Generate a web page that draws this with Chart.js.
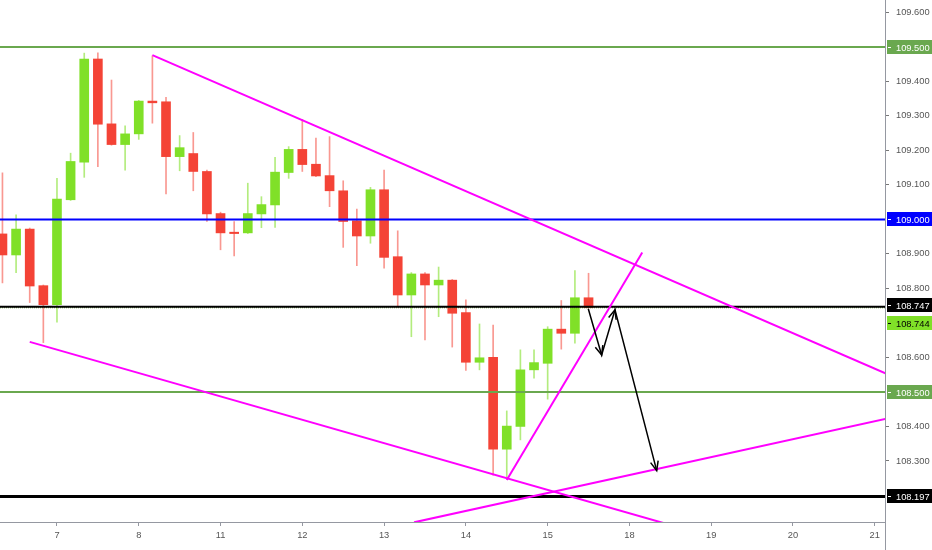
<!DOCTYPE html>
<html lang="en">
<head>
    <meta charset="UTF-8">
    <script src="https://cdn.jsdelivr.net/npm/chart.js@4.4.1/dist/chart.umd.min.js"></script>
    <title>USDJPY 4H</title>
    <style>
        html, body { margin: 0; padding: 0; background: #fff; }
        canvas { display: block; }
    </style>
</head>
<body>
    <canvas id="grafico" width="932" height="550"></canvas>

    <script>
        // candle index (4h bars, 6 per day), 0 = day "7"
        const candleIdx = [-4,-3,-2,-1,0,1,2,3,4,5,6,7,8,9,10,11,12,13,14,15,16,17,18,19,20,21,22,23,24,25,26,27,28,29,30,31,32,33,34,35,36,37,38,39];
        const opens  = [108.958,108.897,108.972,108.808,108.753,109.057,109.166,109.465,109.277,109.217,109.248,109.343,109.341,109.182,109.191,109.139,109.017,108.963,108.961,109.016,109.042,109.136,109.203,109.160,109.127,109.083,108.996,108.952,109.086,108.892,108.781,108.842,108.810,108.824,108.730,108.586,108.600,108.334,108.400,108.564,108.583,108.682,108.670,108.773];
        const highs  = [109.135,109.013,108.975,108.810,109.119,109.192,109.482,109.483,109.404,109.271,109.345,109.474,109.354,109.243,109.252,109.143,109.021,108.994,109.105,109.066,109.180,109.211,109.290,109.236,109.240,109.112,109.030,109.093,109.143,108.967,108.846,108.846,108.862,108.826,108.767,108.697,108.694,108.445,108.622,108.622,108.689,108.765,108.852,108.844];
        const lows   = [108.816,108.846,108.759,108.643,108.702,109.055,109.122,109.153,109.215,109.143,109.232,109.279,109.074,109.141,109.083,108.994,108.912,108.894,108.959,108.976,108.977,109.119,109.139,109.124,109.037,108.919,108.866,108.931,108.859,108.746,108.660,108.651,108.718,108.630,108.562,108.564,108.259,108.253,108.361,108.540,108.479,108.624,108.641,108.744];
        const closes = [108.897,108.972,108.807,108.753,109.059,109.168,109.465,109.276,109.217,109.248,109.343,109.338,109.182,109.208,109.139,109.016,108.961,108.959,109.017,109.043,109.137,109.203,109.159,109.126,109.083,108.994,108.952,109.086,108.890,108.781,108.842,108.810,108.824,108.728,108.586,108.599,108.334,108.401,108.564,108.585,108.682,108.670,108.773,108.744];

        // x axis: day labels at every 6th bar
        const dayTickIdx = [0,6,12,18,24,30,36,42,48,54,60];
        const dayLabels  = ['7','8','11','12','13','14','15','18','19','20','21'];

        // price axis ticks (the ones without a coloured tag)
        const priceTicks = [109.6,109.4,109.3,109.2,109.1,108.9,108.8,108.6,108.4,108.3];

        // horizontal levels
        const levelValues = [109.5, 109.0, 108.747, 108.5, 108.197];
        const levelColors = ['#6aa84f', '#0000ff', '#000000', '#6aa84f', '#000000'];
        const levelWidths = [2, 2, 2, 2, 3];
        const lastPrice = 108.744;

        // trend lines (bar index, price)
        const trendUpperX = [7, 61];
        const trendUpperY = [109.476, 108.550];
        const trendLowerX = [-2, 50];
        const trendLowerY = [108.645, 108.058];
        const trendRiseX = [26.2, 61];
        const trendRiseY = [108.122, 108.424];
        const trendSteepX = [33.0, 42.94];
        const trendSteepY = [108.245, 108.904];

        // projected path (arrows)
        const pathX = [38.98, 39.96, 40.94, 44.0];
        const pathY = [108.741, 108.607, 108.738, 108.272];

        const VERDE = 'rgb(128,224,40)';
        const VERMELHO = 'rgb(244,67,54)';
        const ROSA = '#ff00ff';
        const fonte = '"Liberation Sans", Arial, sans-serif';

        const corpos = candleIdx.map((x, i) => ({ x: x, y: [opens[i], closes[i]] }));
        const pavios = candleIdx.map((x, i) => ({ x: x, y: [lows[i], highs[i]] }));
        const sobe = i => closes[i] >= opens[i];

        function linha(xs, ys, cor, largura, extra) {
            return Object.assign({
                type: 'line',
                data: xs.map((x, i) => ({ x: x, y: ys[i] })),
                borderColor: cor,
                borderWidth: largura,
                pointRadius: 0,
                fill: false,
                tension: 0,
                clip: 0,
                order: 1
            }, extra || {});
        }

        const xMin = -4.18, xMax = 60.75;

        const datasets = [
            {
                type: 'bar', data: pavios, grouped: false, barThickness: 1, order: 4,
                backgroundColor: ctx => sobe(ctx.dataIndex) ? 'rgba(128,224,40,0.6)' : 'rgba(244,67,54,0.55)'
            },
            {
                type: 'bar', data: corpos, grouped: false, barThickness: 9, order: 3, minBarLength: 1,
                backgroundColor: ctx => sobe(ctx.dataIndex) ? VERDE : VERMELHO
            }
        ];
        levelValues.forEach((v, i) => {
            datasets.push(linha([xMin, xMax], [v, v], levelColors[i], levelWidths[i], { order: 2 }));
        });
        datasets.push(linha([xMin, xMax], [lastPrice, lastPrice], '#4e8f12', 1, { borderDash: [1, 1], order: 2 }));
        datasets.push(linha(trendUpperX, trendUpperY, ROSA, 2));
        datasets.push(linha(trendLowerX, trendLowerY, ROSA, 2));
        datasets.push(linha(trendRiseX, trendRiseY, ROSA, 2));
        datasets.push(linha(trendSteepX, trendSteepY, ROSA, 2));
        datasets.push(linha(pathX, pathY, '#000000', 1.5, { order: 0 }));

        // arrow heads at the end of every segment of the path
        const setas = {
            id: 'setas',
            afterDatasetsDraw(chart) {
                const meta = chart.getDatasetMeta(chart.data.datasets.length - 1);
                const pts = meta.data;
                const ctx = chart.ctx;
                ctx.save();
                ctx.strokeStyle = '#000';
                ctx.lineWidth = 1.5;
                for (let i = 1; i < pts.length; i++) {
                    const a = pts[i - 1], b = pts[i];
                    const ang = Math.atan2(b.y - a.y, b.x - a.x);
                    ctx.beginPath();
                    ctx.moveTo(b.x - 10 * Math.cos(ang - 0.4), b.y - 10 * Math.sin(ang - 0.4));
                    ctx.lineTo(b.x, b.y);
                    ctx.lineTo(b.x - 10 * Math.cos(ang + 0.4), b.y - 10 * Math.sin(ang + 0.4));
                    ctx.stroke();
                }
                ctx.restore();
            }
        };

        // coloured price tags on the right scale + axis border
        const etiquetas = {
            id: 'etiquetas',
            afterDraw(chart) {
                const ctx = chart.ctx;
                const y = chart.scales.y;
                const x0 = chart.chartArea.right;
                ctx.save();
                ctx.strokeStyle = '#9598a1';
                ctx.lineWidth = 1;
                ctx.beginPath();
                ctx.moveTo(x0 + 0.5, 0);
                ctx.lineTo(x0 + 0.5, chart.height);
                ctx.stroke();

                ctx.font = '9.3px ' + fonte;
                ctx.textBaseline = 'middle';
                const tags = levelValues.map((v, i) => ({ v: v, bg: levelColors[i], fg: '#fff', dy: 0 }));
                tags[2].dy = -2;
                tags.push({ v: lastPrice, bg: VERDE, fg: '#000', dy: 15 });
                tags.forEach(t => {
                    const py = Math.round(y.getPixelForValue(t.v)) + t.dy;
                    ctx.fillStyle = t.bg;
                    ctx.fillRect(x0 + 2, py - 7, chart.width - x0, 14);
                    ctx.fillStyle = t.fg;
                    ctx.fillRect(x0 + 3, py, 3, 1);
                    ctx.fillText(t.v.toFixed(3), x0 + 11, py + 1);
                });
                ctx.restore();
            }
        };

        new Chart(document.getElementById('grafico'), {
            type: 'bar',
            data: { datasets: datasets },
            options: {
                responsive: false,
                animation: false,
                layout: { padding: 0 },
                plugins: { legend: { display: false }, tooltip: { enabled: false } },
                scales: {
                    x: {
                        type: 'linear',
                        min: xMin,
                        max: xMax,
                        offset: false,
                        grid: { offset: false, drawOnChartArea: false, tickLength: 4, color: '#9598a1' },
                        border: { color: '#9598a1' },
                        ticks: {
                            color: '#555',
                            font: { family: fonte, size: 9.3 },
                            padding: 4,
                            maxRotation: 0,
                            autoSkip: false,
                            callback: v => dayLabels[dayTickIdx.indexOf(v)]
                        },
                        afterBuildTicks: s => { s.ticks = dayTickIdx.map(v => ({ value: v })); },
                        afterFit: s => { s.height = 28; s.paddingLeft = 0; s.paddingRight = 0; }
                    },
                    y: {
                        type: 'linear',
                        position: 'right',
                        min: 108.123,
                        max: 109.636,
                        grid: { drawOnChartArea: false, tickLength: 4, color: '#777' },
                        border: { display: false },
                        ticks: {
                            color: '#555',
                            font: { family: fonte, size: 9.3 },
                            padding: 7,
                            autoSkip: false,
                            callback: v => v.toFixed(3)
                        },
                        afterBuildTicks: s => { s.ticks = priceTicks.map(v => ({ value: v })); },
                        afterFit: s => { s.width = 47; s.paddingTop = 0; s.paddingBottom = 0; }
                    }
                }
            },
            plugins: [setas, etiquetas]
        });
    </script>
</body>
</html>
